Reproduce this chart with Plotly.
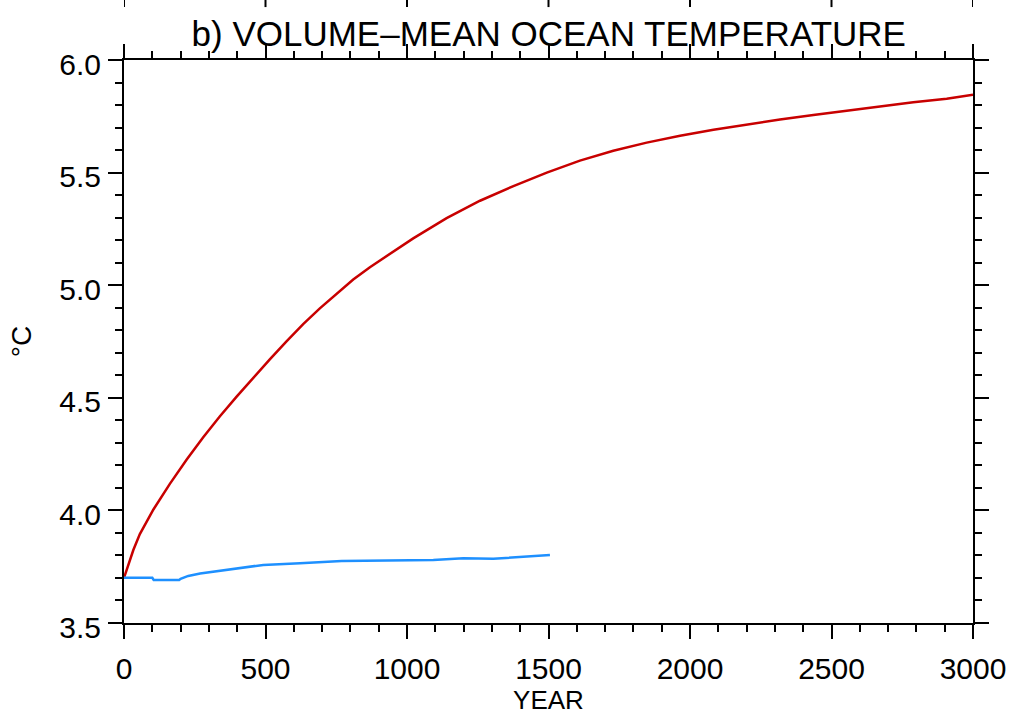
import plotly.graph_objects as go

# ---- data ----
red_years = [0, 10, 33, 56, 80, 104, 162, 221, 280, 339, 398, 457, 516, 575, 634, 692, 751,
             810, 869, 928, 1022, 1140, 1258, 1376, 1494, 1611, 1729, 1847, 1965, 2083,
             2200, 2318, 2436, 2554, 2671, 2789, 2907, 3000]
red_temp = [3.700, 3.738, 3.824, 3.895, 3.953, 4.004, 4.118, 4.225, 4.325, 4.418, 4.505,
            4.590, 4.672, 4.752, 4.828, 4.897, 4.962, 5.025, 5.080, 5.130, 5.208, 5.298,
            5.375, 5.440, 5.500, 5.553, 5.597, 5.633, 5.664, 5.690, 5.713, 5.736, 5.756,
            5.775, 5.793, 5.812, 5.828, 5.846]

blue_years = [0, 100, 105, 195, 200, 227, 269, 333, 433, 492, 622, 769, 1093, 1199, 1305,
              1446, 1505]
blue_temp = [3.701, 3.701, 3.691, 3.691, 3.696, 3.709, 3.720, 3.731, 3.746, 3.758, 3.765,
             3.775, 3.780, 3.787, 3.785, 3.797, 3.802]

x_ticks = [0, 500, 1000, 1500, 2000, 2500, 3000]
x_tick_labels = ["0", "500", "1000", "1500", "2000", "2500", "3000"]
y_ticks = [3.5, 4.0, 4.5, 5.0, 5.5, 6.0]
y_tick_labels = ["3.5", "4.0", "4.5", "5.0", "5.5", "6.0"]

title_text = "b) VOLUME\u2013MEAN OCEAN TEMPERATURE"
x_title = "YEAR"
y_title = "°C"

FONT = "Liberation Sans, Arial, sans-serif"

fig = go.Figure()
fig.add_trace(go.Scatter(x=red_years, y=red_temp, mode="lines",
                         line=dict(color="#C80000", width=2.5), showlegend=False))
fig.add_trace(go.Scatter(x=blue_years, y=blue_temp, mode="lines",
                         line=dict(color="#1E90FF", width=2.5), showlegend=False))

axis_common = dict(showline=True, linecolor="black", linewidth=2, mirror="allticks",
                   ticks="outside", ticklen=14, tickwidth=2, tickcolor="black",
                   showgrid=False, zeroline=False, automargin=False,
                   tickfont=dict(family=FONT, size=30, color="black"))

fig.update_xaxes(range=[0, 3000], tickvals=x_ticks, ticktext=x_tick_labels,
                 minor=dict(dtick=100, ticks="outside", ticklen=7, tickwidth=2,
                            tickcolor="black", showgrid=False),
                 ticklabelstandoff=4,
                 title=dict(text=x_title, font=dict(family=FONT, size=26, color="black"),
                            standoff=1),
                 **axis_common)
fig.update_yaxes(range=[3.5, 6.0], tickvals=y_ticks, ticktext=y_tick_labels,
                 minor=dict(dtick=0.1, ticks="outside", ticklen=7, tickwidth=2,
                            tickcolor="black", showgrid=False),
                 ticklabelstandoff=1, ticklabelshift=4,
                 title=dict(text=y_title, font=dict(family=FONT, size=28, color="black"),
                            standoff=19),
                 **axis_common)

# tick stubs from the panel above (cut off at the top edge of the image)
for xv in x_ticks:
    fig.add_shape(type="line", xref="x", yref="paper", x0=xv, x1=xv, y0=1.094, y1=1.11,
                  line=dict(color="black", width=2))

fig.update_layout(
    width=1019, height=721,
    margin=dict(l=124, r=46, t=60, b=98, autoexpand=False),
    paper_bgcolor="white", plot_bgcolor="white",
    title=dict(text=title_text, x=0.5385, xanchor="center", y=0.953, yanchor="middle",
               yref="container", font=dict(family=FONT, size=35, color="black")),
)

fig.write_html("out.html")
